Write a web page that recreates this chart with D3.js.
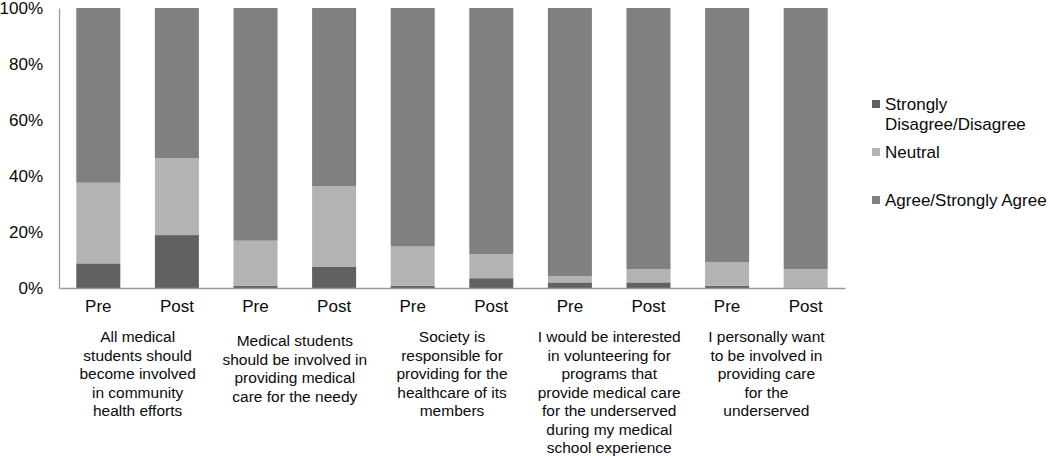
<!DOCTYPE html>
<html>
<head>
<meta charset="utf-8">
<script src="https://cdn.jsdelivr.net/npm/d3@7"></script>
<style>
    body { margin: 0; background: #fff; }
    svg text { font-family: "Liberation Sans", Arial, sans-serif; fill: #0a0a0a; }
</style>
</head>
<body>
<div id="chart"></div>
<script>
//Datos del gráfico
const periods = ['Pre', 'Post'];
const statements = [
    ['All medical', 'students should', 'become involved', 'in community', 'health efforts'],
    ['Medical students', 'should be involved  in', 'providing  medical', 'care for the needy'],
    ['Society is', 'responsible for', 'providing  for the', 'healthcare of its', 'members'],
    ['I would  be interested', 'in volunteering  for', 'programs  that', 'provide  medical care', 'for the underserved', 'during my medical', 'school experience'],
    ['I personally want', 'to be involved  in', 'providing  care', 'for the', 'underserved']
];
const seriesNames = ['Strongly Disagree/Disagree', 'Neutral', 'Agree/Strongly Agree'];
const legendLines = [['Strongly', 'Disagree/Disagree'], ['Neutral'], ['Agree/Strongly Agree']];
// porcentajes por barra (Pre/Post de cada afirmación)
const disagree = [8.8, 18.9, 0.8, 7.5, 0.8, 3.5, 2.0, 2.0, 0.8, 0];
const neutral  = [28.8, 27.5, 16.1, 28.8, 14.0, 8.6, 2.3, 4.7, 8.5, 6.7];
const agree    = [62.4, 53.6, 83.1, 63.7, 85.2, 87.9, 95.7, 93.3, 90.7, 93.3];
const yTicks = [0, 20, 40, 60, 80, 100];

//Colores fijos
const COLORS = ['#616161', '#b3b3b3', '#808080'];

let data = [];
statements.forEach(function(s, i) {
    periods.forEach(function(p, j) {
        let k = i * 2 + j;
        data.push({ id: k, period: p, group: i, values: [disagree[k], neutral[k], agree[k]] });
    });
});

let margin = {top: 8, right: 205, bottom: 168, left: 59},
    width = 1050 - margin.left - margin.right,
    height = 456 - margin.top - margin.bottom;

let svg = d3.select('#chart')
    .append('svg')
        .attr('width', 1050)
        .attr('height', 456)
    .append('g')
        .attr('transform', 'translate(' + margin.left + ',' + margin.top + ')');

let x = d3.scaleBand()
    .domain(data.map(function(d) { return d.id; }))
    .range([0, width])
    .paddingInner(0.44)
    .paddingOuter(0.22);

let y = d3.scaleLinear()
    .domain([0, 100])
    .range([height, 0]);

let stack = d3.stack()
    .keys([0, 1, 2])
    .value(function(d, key) { return d.values[key]; });

let layers = stack(data);

svg.append('g')
    .selectAll('g')
    .data(layers)
    .enter()
    .append('g')
    .attr('fill', function(d) { return COLORS[d.key]; })
    .selectAll('rect')
    .data(function(d) { return d; })
    .enter()
    .append('rect')
    .attr('x', function(d) { return x(d.data.id); })
    .attr('y', function(d) { return y(d[1]); })
    .attr('width', x.bandwidth())
    .attr('height', function(d) { return y(d[0]) - y(d[1]); });

//Eje Y
let yAxis = svg.append('g')
    .call(d3.axisLeft(y).tickValues(yTicks).tickSize(0).tickPadding(16).tickFormat(function(d) { return d + '%'; }));
yAxis.select('.domain').attr('stroke', '#9a9a9a').attr('stroke-width', 1.3);
yAxis.selectAll('text').style('font-size', '17px').attr('fill', '#0a0a0a');

//Eje X
let xAxis = svg.append('g')
    .attr('transform', 'translate(0,' + height + ')')
    .call(d3.axisBottom(x).tickSize(0).tickPadding(12).tickFormat(function(d) { return data[d].period; }));
xAxis.select('.domain').attr('stroke', '#9a9a9a').attr('stroke-width', 1.3);
xAxis.selectAll('text').style('font-size', '17px').attr('fill', '#0a0a0a');

//Etiquetas de cada afirmación
let labels = svg.append('g')
    .selectAll('text')
    .data(statements)
    .enter()
    .append('text')
    .attr('text-anchor', 'middle')
    .style('font-size', '15.5px')
    .attr('transform', function(d, i) {
        let cx = (x(i * 2) + x(i * 2 + 1) + x.bandwidth()) / 2;
        // las afirmaciones de 4-5 líneas más cortas quedan algo más abajo
        let top = d.length == 4 ? 58 : 54;
        return 'translate(' + cx + ',' + (height + top) + ')';
    });

labels.selectAll('tspan')
    .data(function(d) { return d; })
    .enter()
    .append('tspan')
    .attr('x', 0)
    .attr('dy', function(d, i) { return i == 0 ? 0 : 18.5; })
    .text(function(d) { return d.replace(/  /g, ' '); });

//Leyenda
let legendY = d3.scalePoint()
    .domain(seriesNames)
    .range([96, 192]);

let legend = svg.append('g')
    .attr('transform', 'translate(' + (width + 27) + ',0)')
    .selectAll('g')
    .data(seriesNames)
    .enter()
    .append('g')
    .attr('transform', function(d) { return 'translate(0,' + legendY(d) + ')'; });

legend.append('rect')
    .attr('x', 0)
    .attr('y', -4)
    .attr('width', 8)
    .attr('height', 8)
    .attr('fill', function(d, i) { return COLORS[i]; });

legend.append('text')
    .style('font-size', '17px')
    .selectAll('tspan')
    .data(function(d, i) { return legendLines[i]; })
    .enter()
    .append('tspan')
    .attr('x', 13)
    .attr('y', function(d, i) { return i * 20; })
    .attr('dy', '0.35em')
    .text(function(d) { return d; });
</script>
</body>
</html>
